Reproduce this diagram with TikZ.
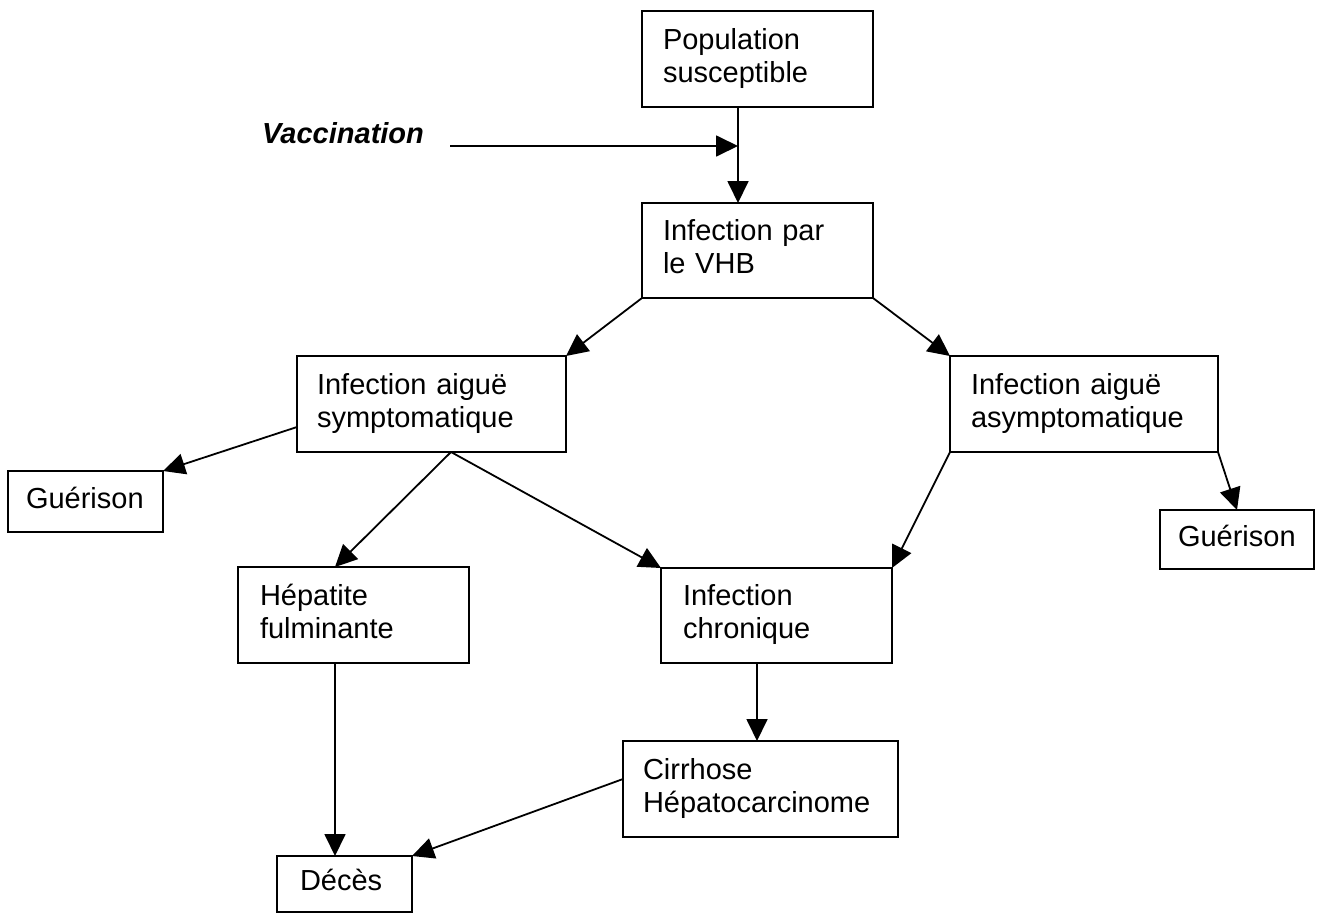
\documentclass[tikz,border=0pt]{standalone}
\usepackage{fontspec}
\setmainfont{Liberation Sans}
\usetikzlibrary{arrows.meta}
\begin{document}
\begin{tikzpicture}[x=1pt,y=-1pt,
  font=\fontsize{29pt}{33pt}\selectfont,
  box/.style={draw, line width=1.8pt, rectangle, anchor=north west, outer sep=0pt,
    inner ysep=0pt, align=left},
  arr/.style={line width=1.8pt, -{Triangle[length=22pt,width=21pt]}}]
\useasboundingbox (0,0) rectangle (1320,913);
\fill[white] (0,0) rectangle (1320,913);
% boxes
\node[box, minimum width=231pt, minimum height=96pt, inner xsep=21pt, text width=189pt] (pop) at (642,11) {\strut Population\\susceptible\strut};
\node[box, minimum width=231pt, minimum height=95pt, inner xsep=21pt, text width=189pt] (vhb) at (642,203) {\strut Infection par\\le VHB\strut};
\node[box, minimum width=269pt, minimum height=96pt, inner xsep=20pt, text width=229pt] (sym) at (297,356) {\strut Infection aiguë\\symptomatique\strut};
\node[box, minimum width=268pt, minimum height=96pt, inner xsep=21pt, text width=226pt] (asym) at (950,356) {\strut Infection aiguë\\asymptomatique\strut};
\node[box, minimum width=155pt, minimum height=61pt, inner xsep=18pt, text width=119pt] (guerL) at (8,471) {\strut Guérison\strut};
\node[box, minimum width=154pt, minimum height=59pt, inner xsep=18pt, text width=118pt] (guerR) at (1160,510) {\strut Guérison\strut};
\node[box, minimum width=231pt, minimum height=96pt, inner xsep=22pt, text width=187pt] (hep) at (238,567) {\strut Hépatite\\fulminante\strut};
\node[box, minimum width=231pt, minimum height=95pt, inner xsep=22pt, text width=187pt] (chron) at (661,568) {\strut Infection\\chronique\strut};
\node[box, minimum width=275pt, minimum height=96pt, inner xsep=20pt, text width=235pt] (cirr) at (623,741) {\strut Cirrhose\\Hépatocarcinome\strut};
\node[box, minimum width=135pt, minimum height=56pt, inner xsep=23pt, text width=89pt] (dec) at (277,856) {\strut Décès\strut};
% vaccination
\node[anchor=base west, inner sep=0pt] (vac) at (262,143) {\bfseries\itshape Vaccination};
\coordinate (vs) at (450,146);
\coordinate (vt) at (738,146);
% connectors
\draw[line width=1.8pt] ([xshift=96pt]pop.south west) -- (vt);
\draw[arr] (vs) -- (vt);
\draw[arr] ([xshift=96pt]pop.south west) -- ([xshift=96pt]vhb.north west);
\draw[arr] (vhb.south west) -- (sym.north east);
\draw[arr] (vhb.south east) -- (asym.north west);
\draw[arr] ([yshift=-71pt]sym.north west) -- (guerL.north east);
\draw[arr] ([xshift=154pt]sym.south west) -- ([xshift=97pt]hep.north west);
\draw[arr] ([xshift=154pt]sym.south west) -- (chron.north west);
\draw[arr] (asym.south west) -- (chron.north east);
\draw[arr] (asym.south east) -- ([xshift=77pt]guerR.north west);
\draw[arr] ([xshift=96pt]chron.south west) -- ([xshift=134pt]cirr.north west);
\draw[arr] ([xshift=97pt]hep.south west) -- ([xshift=58pt]dec.north west);
\draw[arr] ([yshift=-38pt]cirr.north west) -- (dec.north east);
\end{tikzpicture}
\end{document}
